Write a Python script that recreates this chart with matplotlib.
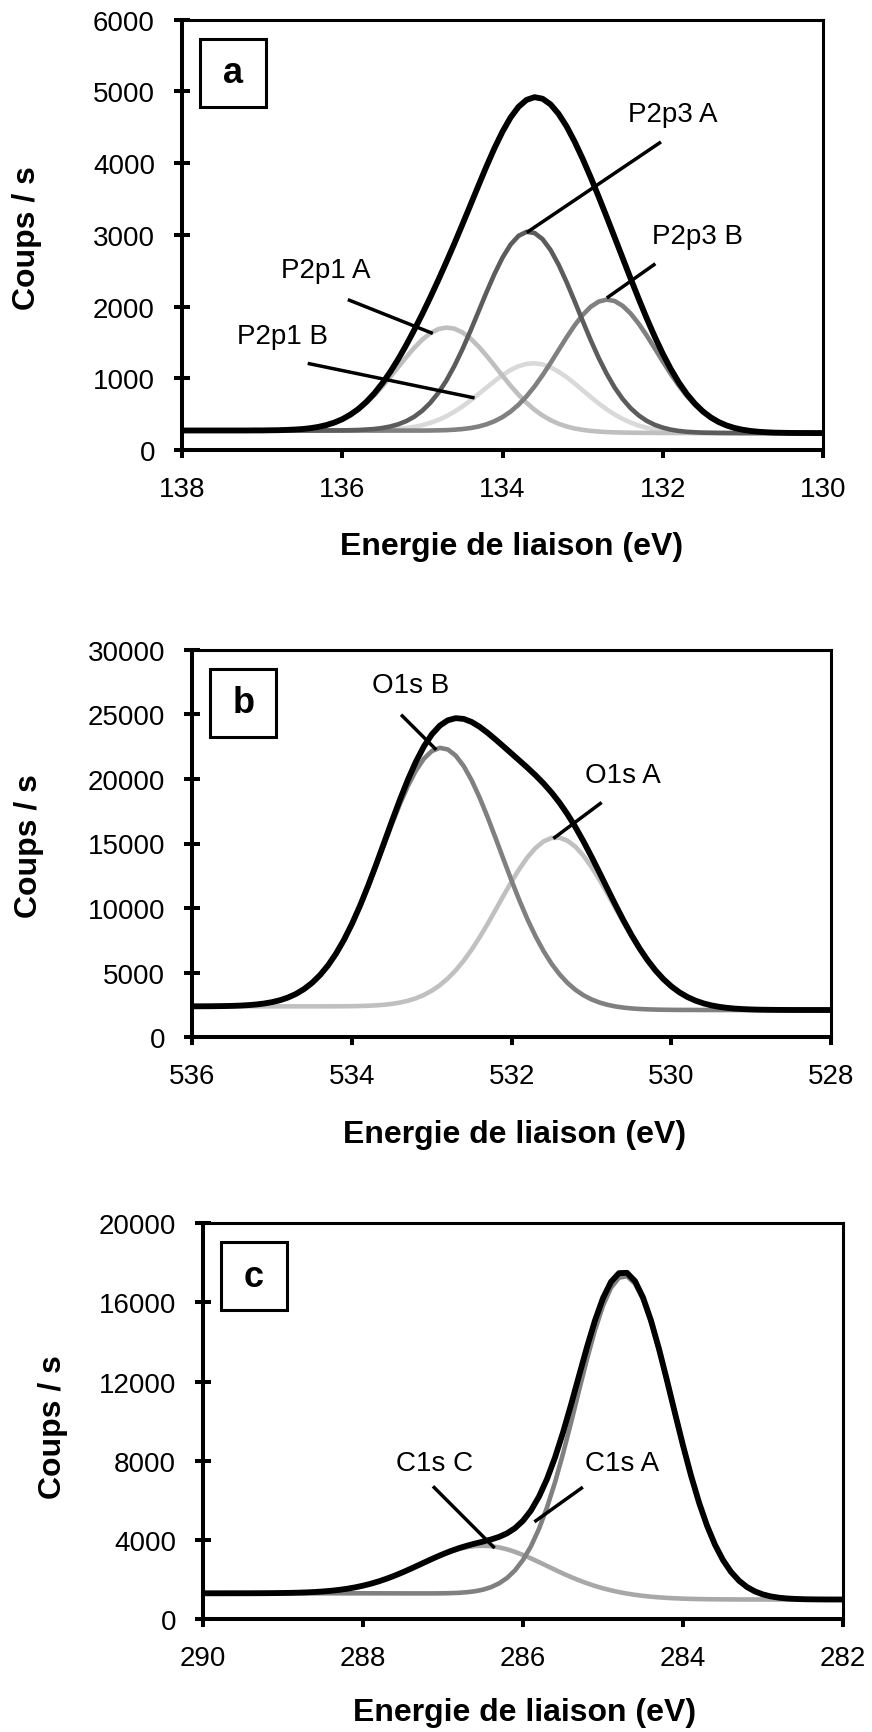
#!/usr/bin/env python3
"""
XPS decomposition: P 2p (a), O 1s (b), C 1s (c).
Counts per second vs binding energy, fitted components + envelope.
"""

import matplotlib
matplotlib.use("Agg")
import matplotlib.pyplot as plt
from matplotlib.patches import Rectangle

plt.rcParams["font.family"] = ["Liberation Sans", "DejaVu Sans"]

# ── Panel a : P 2p ──
BE_P = [130.0, 130.1, 130.2, 130.3, 130.4, 130.5, 130.6, 130.7, 130.8, 130.9,
        131.0, 131.1, 131.2, 131.3, 131.4, 131.5, 131.6, 131.7, 131.8, 131.9,
        132.0, 132.1, 132.2, 132.3, 132.4, 132.5, 132.6, 132.7, 132.8, 132.9,
        133.0, 133.1, 133.2, 133.3, 133.4, 133.5, 133.6, 133.7, 133.8, 133.9,
        134.0, 134.1, 134.2, 134.3, 134.4, 134.5, 134.6, 134.7, 134.8, 134.9,
        135.0, 135.1, 135.2, 135.3, 135.4, 135.5, 135.6, 135.7, 135.8, 135.9,
        136.0, 136.1, 136.2, 136.3, 136.4, 136.5, 136.6, 136.7, 136.8, 136.9,
        137.0, 137.1, 137.2, 137.3, 137.4, 137.5, 137.6, 137.7, 137.8, 137.9, 138.0]
P2P1_B = [236, 236, 236, 236, 236, 236, 236, 236, 236, 236,
          236, 236, 237, 237, 238, 239, 241, 245, 250, 258,
          270, 287, 310, 341, 382, 433, 494, 567, 650, 740,
          834, 928, 1016, 1092, 1153, 1193, 1209, 1201, 1168, 1115,
          1044, 960, 870, 778, 689, 607, 534, 471, 420, 379,
          347, 323, 306, 294, 286, 280, 277, 275, 274, 273,
          272, 272, 272, 272, 272, 272, 272, 272, 272, 272,
          272, 272, 272, 272, 272, 272, 272, 272, 272, 272, 272]
P2P1_A = [236, 236, 236, 236, 236, 236, 236, 236, 236, 236,
          236, 236, 236, 236, 236, 236, 236, 237, 237, 237,
          237, 238, 239, 240, 241, 243, 246, 250, 257, 267,
          281, 300, 328, 366, 416, 481, 561, 658, 771, 898,
          1035, 1177, 1316, 1445, 1556, 1640, 1692, 1707, 1686, 1629,
          1540, 1427, 1297, 1158, 1019, 885, 762, 654, 562, 486,
          426, 380, 346, 321, 304, 292, 285, 280, 276, 275,
          273, 273, 272, 272, 272, 272, 272, 272, 272, 272, 272]
P2P3_B = [236, 236, 237, 237, 238, 240, 242, 247, 254, 265,
          281, 305, 339, 386, 449, 530, 632, 755, 899, 1061,
          1236, 1417, 1596, 1761, 1902, 2010, 2077, 2097, 2069, 1996,
          1882, 1737, 1571, 1393, 1214, 1043, 886, 748, 631, 535,
          459, 401, 358, 327, 306, 292, 283, 277, 274, 272,
          271, 271, 271, 271, 271, 271, 271, 272, 272, 272,
          272, 272, 272, 272, 272, 272, 272, 272, 272, 272,
          272, 272, 272, 272, 272, 272, 272, 272, 272, 272, 272]
P2P3_A = [236, 236, 236, 236, 236, 236, 236, 236, 236, 236,
          236, 237, 237, 238, 240, 242, 247, 254, 266, 284,
          312, 351, 406, 482, 582, 710, 870, 1063, 1285, 1534,
          1801, 2075, 2341, 2584, 2789, 2940, 3026, 3042, 2986, 2863,
          2682, 2455, 2199, 1929, 1660, 1405, 1173, 969, 798, 659,
          549, 465, 403, 359, 328, 307, 293, 285, 279, 276,
          274, 273, 273, 272, 272, 272, 272, 272, 272, 272,
          272, 272, 272, 272, 272, 272, 272, 272, 272, 272, 272]
P2P_TOT = [236, 236, 237, 237, 238, 240, 242, 247, 254, 265,
           282, 306, 341, 389, 454, 539, 648, 781, 942, 1130,
           1343, 1580, 1836, 2107, 2388, 2676, 2964, 3251, 3532, 3804,
           4062, 4300, 4512, 4687, 4819, 4898, 4920, 4882, 4785, 4635,
           4439, 4209, 3955, 3688, 3416, 3146, 2880, 2623, 2373, 2131,
           1899, 1677, 1466, 1270, 1090, 930, 789, 670, 571, 492,
           429, 382, 347, 322, 304, 292, 285, 280, 276, 275,
           273, 273, 272, 272, 272, 272, 272, 272, 272, 272, 272]

# ── Panel b : O 1s ──
BE_O = [528.0, 528.1, 528.2, 528.3, 528.4, 528.5, 528.6, 528.7, 528.8, 528.9,
        529.0, 529.1, 529.2, 529.3, 529.4, 529.5, 529.6, 529.7, 529.8, 529.9,
        530.0, 530.1, 530.2, 530.3, 530.4, 530.5, 530.6, 530.7, 530.8, 530.9,
        531.0, 531.1, 531.2, 531.3, 531.4, 531.5, 531.6, 531.7, 531.8, 531.9,
        532.0, 532.1, 532.2, 532.3, 532.4, 532.5, 532.6, 532.7, 532.8, 532.9,
        533.0, 533.1, 533.2, 533.3, 533.4, 533.5, 533.6, 533.7, 533.8, 533.9,
        534.0, 534.1, 534.2, 534.3, 534.4, 534.5, 534.6, 534.7, 534.8, 534.9,
        535.0, 535.1, 535.2, 535.3, 535.4, 535.5, 535.6, 535.7, 535.8, 535.9, 536.0]
O1S_A = [2112, 2112, 2113, 2113, 2114, 2115, 2118, 2122, 2129, 2139,
         2156, 2182, 2220, 2277, 2358, 2472, 2629, 2841, 3121, 3481,
         3934, 4491, 5159, 5941, 6832, 7821, 8885, 9994, 11112, 12193,
         13189, 14053, 14740, 15214, 15449, 15431, 15162, 14658, 13947, 13067,
         12064, 10986, 9880, 8790, 7751, 6794, 5936, 5188, 4554, 4030,
         3607, 3274, 3019, 2827, 2687, 2587, 2518, 2471, 2440, 2421,
         2409, 2402, 2398, 2396, 2395, 2394, 2394, 2394, 2394, 2395,
         2395, 2395, 2395, 2395, 2395, 2395, 2395, 2395, 2395, 2395, 2395]
O1S_B = [2112, 2112, 2112, 2112, 2112, 2112, 2112, 2112, 2112, 2112,
         2112, 2112, 2112, 2112, 2113, 2113, 2114, 2115, 2117, 2120,
         2125, 2133, 2145, 2164, 2192, 2235, 2298, 2388, 2516, 2693,
         2933, 3253, 3671, 4206, 4874, 5691, 6668, 7809, 9109, 10552,
         12110, 13743, 15399, 17019, 18534, 19878, 20986, 21801, 22281, 22402,
         22156, 21557, 20638, 19448, 18045, 16496, 14870, 13231, 11636, 10133,
         8756, 7530, 6465, 5562, 4814, 4210, 3732, 3362, 3081, 2874,
         2723, 2615, 2540, 2489, 2455, 2432, 2418, 2409, 2403, 2400, 2398]
O1S_TOT = [2112, 2112, 2113, 2113, 2114, 2115, 2118, 2122, 2129, 2139,
           2156, 2182, 2220, 2277, 2358, 2473, 2630, 2843, 3124, 3487,
           3944, 4508, 5187, 5986, 6904, 7933, 9057, 10253, 11494, 12747,
           13979, 15157, 16256, 17258, 18153, 18945, 19645, 20274, 20854, 21408,
           21954, 22500, 23041, 23560, 24028, 24404, 24643, 24701, 24537, 24122,
           23444, 22503, 21319, 19929, 18378, 16723, 15021, 13330, 11700, 10173,
           8781, 7545, 6473, 5567, 4817, 4212, 3733, 3362, 3082, 2874,
           2723, 2615, 2540, 2489, 2455, 2432, 2418, 2409, 2403, 2400, 2398]

# ── Panel c : C 1s ──
BE_C = [282.0, 282.1, 282.2, 282.3, 282.4, 282.5, 282.6, 282.7, 282.8, 282.9,
        283.0, 283.1, 283.2, 283.3, 283.4, 283.5, 283.6, 283.7, 283.8, 283.9,
        284.0, 284.1, 284.2, 284.3, 284.4, 284.5, 284.6, 284.7, 284.8, 284.9,
        285.0, 285.1, 285.2, 285.3, 285.4, 285.5, 285.6, 285.7, 285.8, 285.9,
        286.0, 286.1, 286.2, 286.3, 286.4, 286.5, 286.6, 286.7, 286.8, 286.9,
        287.0, 287.1, 287.2, 287.3, 287.4, 287.5, 287.6, 287.7, 287.8, 287.9,
        288.0, 288.1, 288.2, 288.3, 288.4, 288.5, 288.6, 288.7, 288.8, 288.9,
        289.0, 289.1, 289.2, 289.3, 289.4, 289.5, 289.6, 289.7, 289.8, 289.9, 290.0]
C1S_C = [985, 985, 985, 985, 985, 985, 985, 985, 985, 985,
         986, 986, 987, 988, 990, 992, 996, 1001, 1007, 1017,
         1029, 1046, 1067, 1094, 1128, 1170, 1222, 1284, 1359, 1447,
         1550, 1669, 1804, 1955, 2121, 2299, 2488, 2682, 2875, 3063,
         3238, 3393, 3522, 3620, 3681, 3704, 3687, 3631, 3539, 3416,
         3267, 3098, 2917, 2731, 2545, 2366, 2198, 2044, 1906, 1786,
         1684, 1598, 1527, 1471, 1426, 1392, 1365, 1346, 1332, 1322,
         1315, 1310, 1306, 1304, 1302, 1302, 1301, 1301, 1300, 1300, 1300]
C1S_A = [986, 986, 987, 989, 994, 1001, 1015, 1038, 1077, 1140,
         1240, 1391, 1615, 1936, 2380, 2976, 3749, 4717, 5885, 7243,
         8759, 10378, 12024, 13604, 15017, 16161, 16951, 17325, 17253, 16742,
         15834, 14602, 13139, 11545, 9921, 8353, 6910, 5637, 4559, 3679,
         2986, 2459, 2072, 1798, 1609, 1483, 1403, 1354, 1324, 1308,
         1299, 1295, 1294, 1294, 1294, 1295, 1296, 1297, 1298, 1298,
         1299, 1299, 1299, 1299, 1300, 1300, 1300, 1300, 1300, 1300,
         1300, 1300, 1300, 1300, 1300, 1300, 1300, 1300, 1300, 1300, 1300]
C1S_TOT = [986, 986, 987, 989, 994, 1001, 1015, 1038, 1077, 1140,
           1240, 1392, 1616, 1937, 2381, 2978, 3752, 4721, 5891, 7253,
           8774, 10400, 12056, 13651, 15082, 16253, 17077, 17496, 17481, 17040,
           16219, 15090, 13747, 12292, 10823, 9425, 8162, 7076, 6186, 5488,
           4966, 4591, 4330, 4149, 4019, 3913, 3813, 3705, 3582, 3439,
           3279, 3105, 2921, 2733, 2546, 2367, 2198, 2044, 1906, 1786,
           1684, 1598, 1527, 1471, 1426, 1392, 1365, 1346, 1332, 1322,
           1315, 1310, 1306, 1304, 1302, 1302, 1301, 1301, 1300, 1300, 1300]

XLABEL = "Energie de liaison (eV)"
YLABEL = "Coups / s"

W, H = 872, 1733  # output size in px (dpi 100)

# per panel: plot box in px (left, top, right, bottom), ranges, curves, labels
PANELS = [
    dict(letter="a", box=(182, 20.7, 823, 451), xlim=(138, 130), xticks=[138, 136, 134, 132, 130],
         yticks=[0, 1000, 2000, 3000, 4000, 5000, 6000],
         x=BE_P, comps=[(P2P1_B, "#d9d9d9"), (P2P1_A, "#bfbfbf"), (P2P3_B, "#808080"), (P2P3_A, "#5c5c5c")],
         total=P2P_TOT,
         notes=[("P2p3 A", (131.87, 4680), (132.04, 4282), (133.68, 3046)),
                ("P2p3 B", (131.57, 2977), (132.11, 2583), (132.68, 2134)),
                ("P2p1 A", (136.20, 2514), (135.91, 2088), (134.89, 1634)),
                ("P2p1 B", (136.75, 1588), (136.41, 1203), (134.37, 731))],
         ylab=(27, 238), xlab=(512, 547)),
    dict(letter="b", box=(192.3, 650.7, 831, 1038.3), xlim=(536, 528), xticks=[536, 534, 532, 530, 528],
         yticks=[0, 5000, 10000, 15000, 20000, 25000, 30000],
         x=BE_O, comps=[(O1S_A, "#c0c0c0"), (O1S_B, "#808080")],
         total=O1S_TOT,
         notes=[("O1s B", (533.26, 27247), (533.37, 24876), (532.96, 22349)),
                ("O1s A", (530.61, 20312), (530.89, 18095), (531.46, 15466))],
         ylab=(29, 846), xlab=(515, 1135)),
    dict(letter="c", box=(203, 1224.3, 843, 1620), xlim=(290, 282), xticks=[290, 288, 286, 284, 282],
         yticks=[0, 4000, 8000, 12000, 16000, 20000],
         x=BE_C, comps=[(C1S_C, "#a8a8a8"), (C1S_A, "#808080")],
         total=C1S_TOT,
         notes=[("C1s C", (287.10, 7909), (287.11, 6646), (286.37, 3648)),
                ("C1s A", (284.76, 7909), (285.27, 6612), (285.84, 4962))],
         ylab=(53, 1427), xlab=(525, 1713)),
]

fig = plt.figure(figsize=(W / 100, H / 100), dpi=100)

for p in PANELS:
    l, t, r, b = p["box"]
    bw, bh = r - l, b - t
    ax = fig.add_axes([l / W, 1 - b / H, bw / W, bh / H])

    # components first, envelope on top
    for yv, col in p["comps"]:
        ax.plot(p["x"], yv, color=col, lw=3.3, solid_joinstyle="round")
    ax.plot(p["x"], p["total"], color="black", lw=4.2, solid_joinstyle="round")

    # peak names + leader lines
    for txt, pos, p1, p2 in p["notes"]:
        ax.text(pos[0], pos[1], txt, ha="center", va="center", fontsize=20)
        ax.plot([p1[0], p2[0]], [p1[1], p2[1]], color="black", lw=2.5)

    ax.set_xlim(*p["xlim"])
    ax.set_ylim(p["yticks"][0], p["yticks"][-1])
    ax.set_xticks(p["xticks"])
    ax.set_yticks(p["yticks"])
    ax.tick_params(axis="y", direction="inout", length=12, width=2.9, pad=13.5, labelsize=20)
    ax.tick_params(axis="x", direction="out", length=6, width=2.9, pad=12.7, labelsize=20)
    for s in ["left", "bottom"]:
        ax.spines[s].set_linewidth(2.9)
    for s in ["top", "right"]:
        ax.spines[s].set_linewidth(2.2)

    # panel letter in a framed box
    ax.add_patch(Rectangle((18 / bw, 1 - 87 / bh), 66 / bw, 68 / bh, transform=ax.transAxes,
                           fill=False, ec="black", lw=2.2, clip_on=False, zorder=5))
    ax.text(51 / bw, 1 - 53 / bh, p["letter"], transform=ax.transAxes,
            ha="center", va="center", fontsize=26, fontweight="bold")

    fig.text(p["ylab"][0] / W, 1 - p["ylab"][1] / H, YLABEL, rotation=90,
             ha="center", va="center", fontsize=23, fontweight="bold")
    fig.text(p["xlab"][0] / W, 1 - p["xlab"][1] / H, XLABEL,
             ha="center", va="center", fontsize=23, fontweight="bold")

fig.savefig("out.png", dpi=100)
plt.close(fig)
